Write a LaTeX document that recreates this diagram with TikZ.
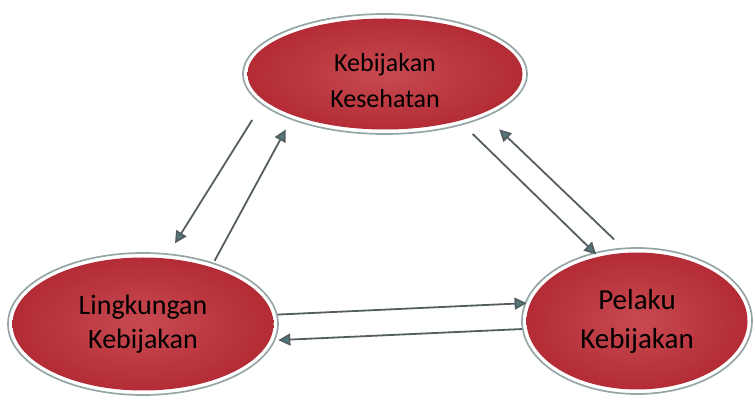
\documentclass[tikz,border=0pt]{standalone}
\usepackage{fontspec}
\setmainfont{Carlito}
\usetikzlibrary{shapes.geometric,arrows.meta,calc}
\definecolor{polred}{RGB}{200,74,80}
\definecolor{polreddark}{RGB}{178,42,52}
\definecolor{ringgray}{RGB}{150,166,166}
\definecolor{linkgray}{RGB}{84,94,96}
\definecolor{tipteal}{RGB}{78,122,124}
\tikzset{
    actor/.style={ellipse, draw=ringgray, line width=1.7pt, fill=white, inner sep=0pt, align=center,
        path picture={\shade[inner color=polred, outer color=polreddark]
            let \p1=($(path picture bounding box.north east)-(path picture bounding box.center)$) in
            (path picture bounding box.center) ellipse [x radius=\x1-4.5pt, y radius=\y1-4.5pt];}},
    link/.style={draw=linkgray, line width=1.8pt, -{Triangle[length=12pt, width=12pt, fill=tipteal]}}
}
\begin{document}
\begin{tikzpicture}[x=1pt, y=-1pt]
    \useasboundingbox (0,0) rectangle (753,403);
    % Nodes
    \node[actor, minimum width=284pt, minimum height=120pt, text height=68pt, font=\fontsize{26}{36}\selectfont] (health) at (385,74) {Kebijakan\\Kesehatan};
    \node[actor, minimum width=270pt, minimum height=142pt, font=\fontsize{28}{34}\selectfont] (context) at (143,324) {Lingkungan\\Kebijakan};
    \node[actor, minimum width=230pt, minimum height=146pt, font=\fontsize{29}{39}\selectfont] (actors) at (637,321) {Pelaku\\Kebijakan};

    % edges
    \draw[link, shorten <=18pt, shorten >=12pt] (health.194.4) -- (context.70.7);
    \draw[link, shorten <=2pt, shorten >=11pt] (context.41.6) -- (health.206.1);
    \draw[link, shorten <=13pt, shorten >=-3pt] (health.327.7) -- (actors.122.8);
    \draw[link, shorten <=12pt, shorten >=18pt] (actors.101) -- (health.337.2);
    \draw[link, shorten >=-2pt] (context.4.7) -- (actors.171.9);
    \draw[link, shorten >=3pt] (actors.184) -- (context.353.5);
\end{tikzpicture}
\end{document}
